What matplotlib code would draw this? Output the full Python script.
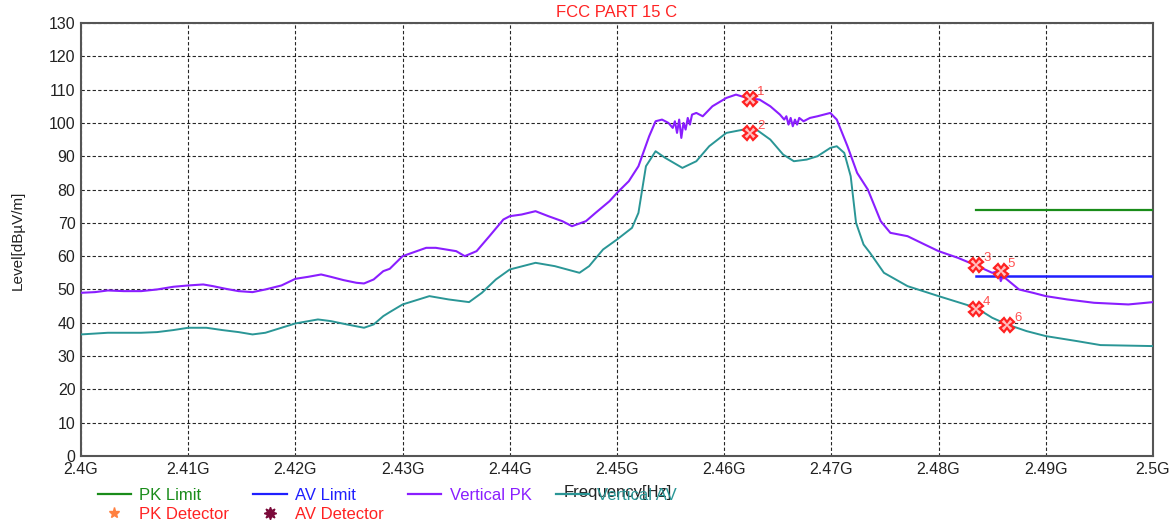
import matplotlib
matplotlib.use("Agg")
import matplotlib.pyplot as plt
from matplotlib.lines import Line2D

plt.rcParams['font.family'] = ['Liberation Sans', 'DejaVu Sans']

# ---------------- data ----------------
pk_freq = [2.4000, 2.4013, 2.4025, 2.4040, 2.4056, 2.4071, 2.4086, 2.4100, 2.4114, 2.4123,
           2.4135, 2.4147, 2.4160, 2.4172, 2.4187, 2.4200, 2.4212, 2.4224, 2.4233, 2.4245,
           2.4257, 2.4264, 2.4273, 2.4282, 2.4288, 2.4300, 2.4322, 2.4331, 2.4350, 2.4358,
           2.4369, 2.4381, 2.4394, 2.4400, 2.4411, 2.4424, 2.4436, 2.4449, 2.4458, 2.4471,
           2.4480, 2.4493, 2.4500, 2.4511, 2.4520, 2.4530, 2.4536, 2.4542, 2.4548, 2.4552,
           2.4554, 2.4556, 2.4558, 2.4560, 2.4562, 2.4564, 2.4566, 2.4568, 2.4570, 2.4574,
           2.4580, 2.4589, 2.4602, 2.4611, 2.4621, 2.4633, 2.4643, 2.4652, 2.4656, 2.4658,
           2.4660, 2.4662, 2.4664, 2.4666, 2.4668, 2.4670, 2.4674, 2.4680, 2.4687, 2.4699,
           2.4705, 2.4715, 2.4724, 2.4734, 2.4746, 2.4755, 2.4771, 2.4787, 2.4800, 2.4818,
           2.4835, 2.4850, 2.4856, 2.4858, 2.4860, 2.4875, 2.4888, 2.4900, 2.4920, 2.4945,
           2.4977, 2.5000]
pk_level = [49.0, 49.2, 49.7, 49.5, 49.5, 50.0, 50.8, 51.2, 51.5, 51.0,
            50.2, 49.5, 49.2, 50.0, 51.2, 53.2, 53.8, 54.5, 53.8, 52.8,
            52.0, 51.8, 53.0, 55.5, 56.2, 60.0, 62.5, 62.5, 61.5, 60.0,
            61.5, 66.0, 71.0, 72.0, 72.5, 73.5, 72.0, 70.5, 69.0, 70.5,
            73.0, 76.5, 79.0, 82.5, 87.0, 96.0, 100.5, 101.0, 100.0, 98.5,
            100.5, 97.0, 101.0, 95.5, 100.0, 98.0, 101.5, 99.5, 102.5, 103.0,
            102.0, 105.0, 107.5, 108.5, 107.5, 107.0, 105.0, 102.5, 101.0, 102.0,
            99.5, 101.5, 99.0, 101.0, 99.5, 101.5, 100.5, 101.5, 102.0, 103.0,
            101.0, 93.0, 85.0, 80.0, 70.5, 67.0, 66.0, 63.5, 61.5, 59.5,
            57.2, 55.0, 55.5, 52.5, 54.0, 50.0, 49.0, 48.0, 47.0, 46.0,
            45.5, 46.2]

av_freq = [2.4000, 2.4025, 2.4056, 2.4071, 2.4086, 2.4100, 2.4117, 2.4132, 2.4147, 2.4160,
           2.4172, 2.4187, 2.4200, 2.4221, 2.4233, 2.4248, 2.4264, 2.4273, 2.4282, 2.4288,
           2.4300, 2.4325, 2.4343, 2.4362, 2.4374, 2.4387, 2.4400, 2.4424, 2.4442, 2.4465,
           2.4474, 2.4487, 2.4500, 2.4514, 2.4520, 2.4527, 2.4536, 2.4545, 2.4561, 2.4574,
           2.4586, 2.4602, 2.4618, 2.4630, 2.4643, 2.4655, 2.4665, 2.4677, 2.4687, 2.4699,
           2.4705, 2.4712, 2.4718, 2.4723, 2.4730, 2.4736, 2.4749, 2.4771, 2.4800, 2.4818,
           2.4835, 2.4850, 2.4864, 2.4882, 2.4900, 2.4929, 2.4951, 2.5000]
av_level = [36.5, 37.0, 37.0, 37.2, 37.8, 38.5, 38.5, 37.8, 37.2, 36.5,
            37.0, 38.5, 39.8, 41.0, 40.5, 39.5, 38.5, 39.5, 42.0, 43.2,
            45.5, 48.0, 47.0, 46.2, 49.0, 53.0, 56.0, 58.0, 57.0, 55.0,
            57.0, 62.0, 65.0, 68.5, 73.0, 87.0, 91.5, 89.5, 86.5, 88.5,
            93.0, 97.0, 98.0, 98.0, 95.0, 90.5, 88.5, 89.0, 90.0, 92.5,
            93.0, 91.0, 84.0, 70.0, 63.5, 61.0, 55.0, 51.0, 48.0, 46.2,
            44.5, 41.5, 39.5, 37.5, 36.0, 34.5, 33.3, 33.0]

limit_freq = [2.4835, 2.5000]
pk_limit = [74.0, 74.0]
av_limit = [54.0, 54.0]

marker_freq = [2.4624, 2.4624, 2.4835, 2.4835, 2.4858, 2.4864]
marker_level = [107.2, 97.0, 57.4, 44.1, 55.6, 39.3]
marker_labels = ['1', '2', '3', '4', '5', '6']

x_ticks = [2.40, 2.41, 2.42, 2.43, 2.44, 2.45, 2.46, 2.47, 2.48, 2.49, 2.50]
x_ticklabels = ['2.4G', '2.41G', '2.42G', '2.43G', '2.44G', '2.45G',
                '2.46G', '2.47G', '2.48G', '2.49G', '2.5G']
y_ticks = list(range(0, 131, 10))

# ---------------- colors ----------------
c_pk_lim = '#1a8c1a'
c_av_lim = '#1f1fff'
c_vpk = '#8a1eff'
c_vav = '#2a9696'
c_red = '#ff2222'

fig = plt.figure(figsize=(11.73, 5.25), dpi=100)
ax = fig.add_axes([81 / 1173, 1 - 456 / 525, (1153 - 81) / 1173, (456 - 23) / 525])

ax.plot(pk_freq, pk_level, color=c_vpk, lw=1.5, zorder=3)
ax.plot(av_freq, av_level, color=c_vav, lw=1.4, zorder=3)
ax.plot(limit_freq, pk_limit, color=c_pk_lim, lw=1.6, zorder=4)
ax.plot(limit_freq, av_limit, color=c_av_lim, lw=1.8, zorder=4)

ax.plot(marker_freq, marker_level, linestyle='none', marker='X', markersize=10,
        markerfacecolor='#ffc0c0', markeredgecolor=c_red, markeredgewidth=1.6, zorder=5)
for f, v, t in zip(marker_freq, marker_level, marker_labels):
    ax.annotate(t, (f, v), xytext=(5, 3), textcoords='offset points',
                color='#ff5050', fontsize=9.5, zorder=6)

ax.set_xlim(2.40, 2.50)
ax.set_ylim(0, 130)
ax.set_xticks(x_ticks)
ax.set_xticklabels(x_ticklabels)
ax.set_yticks(y_ticks)
ax.tick_params(axis='both', length=0, labelsize=11.5, colors='#222222', pad=4)
ax.grid(True, color='black', linestyle=(0, (3, 2)), linewidth=0.8, alpha=0.85)
for s in ax.spines.values():
    s.set_color('#555555')
    s.set_linewidth(1.5)

ax.set_title('FCC PART 15 C', color=c_red, fontsize=12, pad=4)
fig.text(18 / 1173, 1 - 240 / 525, 'Level[dBµV/m]', rotation=90,
         ha='center', va='center', fontsize=11, color='#222222')

handles = [
    Line2D([], [], color=c_pk_lim, lw=1.6),
    Line2D([], [], linestyle='none', marker='*', color='#ff8040', markersize=8),
    Line2D([], [], color=c_av_lim, lw=1.6),
    Line2D([], [], linestyle='none', marker=(8, 1, 0), color='#7a0a3a', markersize=9),
    Line2D([], [], color=c_vpk, lw=1.6),
    Line2D([], [], color='none'),
    Line2D([], [], color=c_vav, lw=1.6),
    Line2D([], [], color='none'),
]
labels = ['PK Limit', 'PK Detector', 'AV Limit', 'AV Detector',
          'Vertical PK', '', 'Vertical AV', '']
text_colors = [c_pk_lim, c_red, c_av_lim, c_red, c_vpk, 'k', c_vav, 'k']
leg = fig.legend(handles, labels, ncol=4, loc='upper left',
                 bbox_to_anchor=(91 / 1173, 1 - 481 / 525), frameon=False,
                 fontsize=12, handlelength=2.0, handletextpad=0.5,
                 columnspacing=1.45, labelspacing=0.25, borderaxespad=0)
for t, c in zip(leg.get_texts(), text_colors):
    t.set_color(c)

fig.text(618 / 1173, 1 - 493 / 525, 'Frequency[Hz]', ha='center', va='center',
         fontsize=12, color='#222222')

fig.savefig('out.png', dpi=100)
